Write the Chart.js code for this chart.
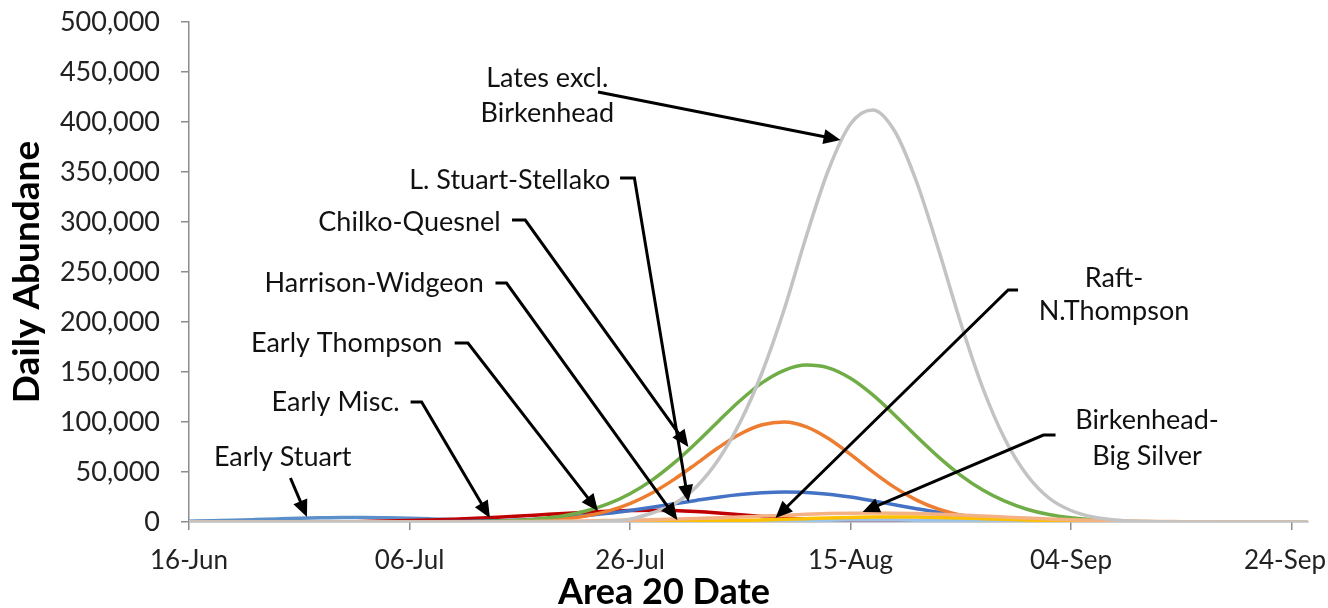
<!DOCTYPE html>
<html><head><meta charset="utf-8">
<script src="https://cdn.jsdelivr.net/npm/chart.js@4/dist/chart.umd.min.js"></script>
<style>html,body{margin:0;padding:0;background:#fff;}#wrap{width:1328px;height:608px;}</style>
</head><body><div id="wrap"><canvas id="c" width="1328" height="608"></canvas></div>
<script>
// Days after 16-Jun (Area 20 date)
const days = [0,2,4,6,8,10,12,14,16,18,20,22,24,26,28,30,32,34,36,38,40,42,44,46,48,50,52,54,56,58,60,62,64,66,68,70,72,74,76,78,80,82,84,86,88,90,92,94,96,98,100,102];
const tickDays = [0,20,40,60,80,100];
const tickLabels = ['16-Jun','06-Jul','26-Jul','15-Aug','04-Sep','24-Sep'];
const yTicks = [0,50000,100000,150000,200000,250000,300000,350000,400000,450000,500000];

const earlyStuart = [780,1200,1750,2390,3070,3700,4200,4460,4460,4200,3700,3070,2390,1750,1200,780,470,270,140,70,30,0,0,0,0,0,0,0,0,0,0,0,0,0,0,0,0,0,0,0,0,0,0,0,0,0,0,0,0,0,0,0];
const earlyMisc = [0,0,0,0,0,0,0,0,500,900,1400,2000,2800,3700,4800,6000,7300,8600,9800,10800,11500,11800,11500,10500,9000,7200,5500,4000,2700,1700,1000,550,280,130,0,0,0,0,0,0,0,0,0,0,0,0,0,0,0,0,0,0];
const lStuartStellako = [0,0,0,0,0,0,0,0,0,0,135,250,440,760,1250,2000,3000,4500,6400,8700,11600,14800,18200,21600,24800,27400,29200,30000,29600,27800,24900,21200,17200,13300,9700,6800,4500,2900,1700,1000,540,280,140,0,0,0,0,0,0,0,0,0];
const harrisonWidgeon = [0,0,0,0,0,0,0,0,0,0,0,0,0,0,0,650,1500,3100,6000,10900,18400,29000,42600,58200,74200,88000,97200,100000,95200,83500,67600,50400,34600,21900,12800,6900,3400,1600,650,250,100,0,0,0,0,0,0,0,0,0,0,0];
const chilkoQuesnel = [0,0,0,0,0,0,0,0,0,0,0,0,0,420,890,1800,3500,6300,11000,18100,28300,41900,59100,79100,100600,121500,139400,151700,156900,154100,143700,127300,107100,85500,64900,46700,32000,20800,12800,7500,4200,2200,1100,530,250,100,0,0,0,0,0,0];
const latesExclBirkenhead = [0,0,0,0,0,0,0,0,0,0,0,0,0,0,0,0,0,0,300,900,2800,9000,18000,35000,62000,100000,150000,213000,286000,352000,398000,412000,391000,340000,272000,199000,134000,83000,47000,24000,11500,5000,2000,740,250,80,0,0,0,0,0,0];
const birkenheadBigSilver = [0,0,0,0,0,0,0,0,0,0,0,0,0,200,350,500,700,900,1100,1400,1800,2300,2900,3500,4200,5000,5900,6800,7700,8400,8850,9000,8850,8420,7760,6900,5950,4960,4000,3120,2360,1720,1220,830,550,350,200,120,60,0,0,0];
const raftNThompson = [0,0,0,0,0,0,0,0,0,0,0,0,0,0,0,0,0,0,0,0,140,250,420,680,1030,1490,2060,2700,3370,4000,4530,4880,5000,4880,4530,4000,3370,2700,2060,1490,1030,680,420,250,140,0,0,0,0,0,0,0];
const otherLate = [0,0,0,0,0,0,0,0,0,0,0,0,0,0,0,0,0,0,70,110,180,270,400,560,750,970,1210,1450,1670,1850,1960,2000,1960,1850,1670,1450,1210,970,750,560,400,270,180,110,70,40,0,0,0,0,0,0];

// Annotation layout (data coordinates: day, value)
const notes = [
  {lines:['Lates excl.','Birkenhead'], day:32.5, value:444000, gap:35000},
  {lines:['L. Stuart-Stellako'], day:29.1, value:342000},
  {lines:['Chilko-Quesnel'], day:20.0, value:300000},
  {lines:['Harrison-Widgeon'], day:16.8, value:239000},
  {lines:['Early Thompson'], day:14.3, value:179000},
  {lines:['Early Misc.'], day:13.3, value:120000},
  {lines:['Early Stuart'], day:8.5, value:65000},
  {lines:['Raft-','N.Thompson'], day:83.9, value:244000, gap:33000},
  {lines:['Birkenhead-','Big Silver'], day:86.9, value:102000, gap:36000}
];
const arrows = [
  [[37.1,430000],[59.1,382000]],
  [[39.1,344000],[40.4,344000],[45.3,20000]],
  [[29.3,302000],[30.5,302000],[45.3,75000]],
  [[27.8,239000],[28.8,239000],[44.3,2000]],
  [[24.1,179000],[25.3,179000],[37.1,11000]],
  [[20.1,120000],[21.1,120000],[27.3,4000]],
  [[9.2,44000],[10.7,5000]],
  [[75.2,232000],[74.3,232000],[53.2,4000]],
  [[78.6,87000],[77.5,87000],[61.1,10000]]
];

const series = [
  {label:'Lates excl. Birkenhead', data:latesExclBirkenhead, color:'#c3c3c3'},
  {label:'Birkenhead-Big Silver', data:birkenheadBigSilver, color:'#f4b183'},
  {label:'Raft-N.Thompson', data:raftNThompson, color:'#ffc000'},
  {label:'Other', data:otherLate, color:'#9dc3e6'},
  {label:'Chilko-Quesnel', data:chilkoQuesnel, color:'#70ad47'},
  {label:'Harrison-Widgeon', data:harrisonWidgeon, color:'#ed7d31'},
  {label:'L. Stuart-Stellako', data:lStuartStellako, color:'#4472c4'},
  {label:'Early Misc.', data:earlyMisc, color:'#c00000'},
  {label:'Early Stuart', data:earlyStuart, color:'#5b8fc9'}
];

const FONT = 'Lato, "Open Sans", sans-serif';

const annPlugin = {
  id:'ann',
  afterDatasetsDraw(chart){
    const {ctx, scales:{x,y}} = chart;
    ctx.save();
    ctx.fillStyle = '#111';
    ctx.font = '27px ' + FONT;
    ctx.textAlign = 'center';
    ctx.textBaseline = 'middle';
    notes.forEach(n => {
      n.lines.forEach((t,i) => {
        ctx.fillText(t, x.getPixelForValue(n.day), y.getPixelForValue(n.value - i*(n.gap||0)));
      });
    });
    ctx.strokeStyle = '#000';
    ctx.fillStyle = '#000';
    ctx.lineWidth = 3;
    ctx.lineJoin = 'miter';
    arrows.forEach(a => {
      const p = a.map(q => [x.getPixelForValue(q[0]), y.getPixelForValue(q[1])]);
      const e = p[p.length-1], s = p[p.length-2];
      const ang = Math.atan2(e[1]-s[1], e[0]-s[0]);
      const L = 17, W = 7.5;
      ctx.beginPath();
      ctx.moveTo(p[0][0], p[0][1]);
      for (let i=1;i<p.length-1;i++) ctx.lineTo(p[i][0], p[i][1]);
      ctx.lineTo(e[0]-Math.cos(ang)*(L-2), e[1]-Math.sin(ang)*(L-2));
      ctx.stroke();
      ctx.beginPath();
      ctx.moveTo(e[0], e[1]);
      ctx.lineTo(e[0]-Math.cos(ang)*L - Math.sin(ang)*W, e[1]-Math.sin(ang)*L + Math.cos(ang)*W);
      ctx.lineTo(e[0]-Math.cos(ang)*L + Math.sin(ang)*W, e[1]-Math.sin(ang)*L - Math.cos(ang)*W);
      ctx.closePath();
      ctx.fill();
    });
    // x axis title
    ctx.fillStyle = '#000';
    ctx.font = 'bold 36px ' + FONT;
    ctx.textBaseline = 'middle';
    ctx.fillText('Area 20 Date', 664, 592);
    ctx.restore();
  }
};

function build(){
  new Chart(document.getElementById('c'), {
    type:'line',
    data:{
      datasets: series.map(s => ({
        label:s.label,
        data: days.map((d,i) => ({x:d, y:s.data[i]})),
        borderColor:s.color,
        backgroundColor:s.color,
        borderWidth:3.5,
        pointRadius:0,
        fill:false,
        cubicInterpolationMode:'monotone'
      }))
    },
    options:{
      responsive:false,
      animation:false,
      events:[],
      layout:{padding:{top:22, right:20, left:0, bottom:0}},
      plugins:{legend:{display:false}, tooltip:{enabled:false}},
      scales:{
        x:{
          type:'linear', min:0, max:101.5,
          afterBuildTicks: s => { s.ticks = tickDays.map(v => ({value:v})); },
          afterFit: s => { s.height = 86; s.paddingLeft = 0; s.paddingRight = 0; },
          ticks:{
            // last label is nudged left with a trailing en space so it stays inside the canvas
            callback:(v) => { const i = tickDays.indexOf(v); if (i < 0) return ''; return i === tickDays.length - 1 ? tickLabels[i] + '\u2002' : tickLabels[i]; },
            font:{family:FONT, size:26},
            color:'#222', padding:15, maxRotation:0, autoSkip:false
          },
          grid:{drawOnChartArea:false, drawTicks:true, tickLength:8, color:'#8c8c8c', lineWidth:1.5},
          border:{display:true, color:'#a0a0a0', width:1.5}
        },
        y:{
          min:0, max:500000,
          afterBuildTicks: s => { s.ticks = yTicks.map(v => ({value:v})); },
          afterFit: s => { s.width = 189; s.paddingTop = 0; s.paddingBottom = 0; },
          ticks:{
            callback:(v) => v.toLocaleString('en-US'),
            font:{family:FONT, size:27}, color:'#222', padding:21
          },
          grid:{drawOnChartArea:false, drawTicks:true, tickLength:8, color:'#8c8c8c', lineWidth:1.5},
          border:{display:true, color:'#8c8c8c', width:1.5},
          title:{display:true, text:'Daily Abundane', font:{family:FONT, size:37, weight:'bold'}, color:'#000', padding:{top:5, bottom:0}}
        }
      }
    },
    plugins:[annPlugin]
  });
}
Promise.all([document.fonts.load('27px Lato'), document.fonts.load('bold 37px Lato')]).then(build, build);
</script></body></html>
